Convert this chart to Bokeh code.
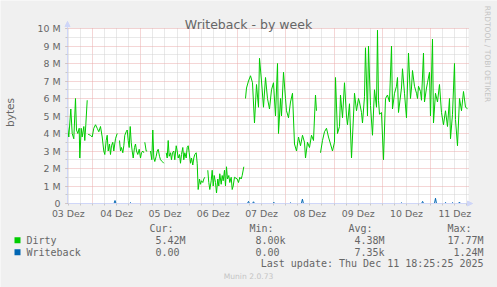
import math
import numpy as np
from bokeh.plotting import figure
from bokeh.models import (Range1d, FixedTicker, Label, Arrow, NormalHead,
                          BoxAnnotation, ColumnDataSource)
from bokeh.embed import file_html
from bokeh.resources import INLINE

NaN = float("nan")

# ---- data (time = hours since 03 Dez 00:00, values in M bytes) ----
dirty_t = [11.6, 12.25, 13.24, 13.93, 14.73, 15.57, 16.07, 16.72, 17.41, 17.71,
           18.41, 18.9, 19.7, 20.19, 20.69, 21.39, 21.63, 21.88, 23.03, 23.87,
           24.66, 25.51, 26.35, 27.15, 27.99, 28.84, 29.63, 30.13, 30.82, 31.32,
           31.82, 32.46, 32.96, 33.46, 34.1, 34.6, 35.44, 36.29, 36.83, 37.43,
           37.93, 38.42, 39.07, 39.57, 40.06, 40.76, 41.26, 41.75, 42.25, 42.75,
           43.24, 43.74, 44.24, 44.88, 45.38, 45.88, 46.52, 47.22, 47.86, 48.36,
           49.01, 49.5, 49.75, 50.0, 50.69, 51.19, 52.33, 52.83, 53.48, 53.97,
           54.47, 54.97, 55.66, 56.16, 56.66, 57.3, 57.8, 58.64, 59.44, 60.28,
           60.63, 61.13, 61.62, 62.12, 62.77, 63.26, 63.76, 64.4, 64.9, 65.6,
           66.09, 66.59, 67.24, 67.73, 68.23, 68.87, 69.37, 69.87, 70.56, 71.06,
           71.56, 72.05, 72.7, 73.2, 73.84, 74.34, 74.84, 75.53, 76.03, 76.52,
           77.17, 77.67, 78.16, 78.81, 79.31, 79.8, 80.65, 81.29, 81.79, 82.29,
           82.98, 83.48, 83.98, 84.47, 85.12, 85.62, 86.26, 86.76, 87.25, 87.95,
           88.45, 88.94, 89.59, 90.09, 90.58, 91.08, 91.72, 92.22, 92.92, 93.41,
           93.91, 94.56, 95.9, 96.54, 97.19, 97.88, 98.38, 99.18, 99.52,
           100.02, 100.52, 101.51, 102.51, 103.5, 104.49, 105.49, 106.48, 106.98, 107.97,
           108.96, 109.96, 110.95, 111.94, 112.94, 113.93, 114.92, 115.92, 116.41, 117.41,
           117.9, 118.9, 119.89, 120.39, 121.38, 122.38, 123.37, 124.36, 125.36, 126.35,
           127.34, 128.34, 129.33, 129.83, 130.82, 131.81, 132.81, 133.8, 134.79, 135.29,
           136.28, 137.28, 138.27, 139.27, 140.26, 141.25, 142.25, 143.24, 144.23, 144.73,
           145.72, 146.72, 147.21, 148.21, 149.2, 150.19, 150.69, 151.68, 152.68, 153.67,
           154.17, 155.16, 156.15, 156.65, 157.64, 158.14, 159.13, 159.63, 160.62, 161.12,
           162.11, 163.11, 164.1, 165.1, 165.59, 166.09, 166.59, 167.58, 168.57, 169.57,
           170.56, 171.55, 172.55, 173.04, 174.04, 175.03, 175.53, 176.02, 177.51, 178.01,
           179.0, 179.99, 180.99, 181.98, 182.48, 182.98, 183.97, 184.97, 185.46, 185.96,
           186.95, 187.45, 188.44, 188.94, 189.93, 190.43, 191.42, 191.92, 192.91, 193.41,
           194.4, 195.4, 196.39, 197.38, 198.38, 199.37, 200.37, 201.36, 201.86, 202.85,
           203.84, 204.34, 205.33, 206.33, 207.32, 208.31, 209.31, 210.3]

dirty_v = [4.4, 3.8, 5.4, 4.0, 3.7, 6.0, 4.2, 4.0, 4.3, 2.6,
           4.3, 3.8, 4.4, 3.6, 4.5, 5.9, NaN, 3.95, 3.9, 3.8,
           4.3, 4.5, 4.3, 4.1, 4.4, 3.8, 3.0, 2.8, 3.6, 3.9,
           3.0, 3.4, 2.8, 3.3, 3.5, 3.0, 3.7, 4.0, NaN, 3.6,
           3.0, 3.2, 2.9, 3.3, 3.9, 4.1, 4.2, 3.6, 3.2, 4.4,
           3.5, 3.0, 2.6, 3.2, 3.4, 3.0, 2.8, 3.1, 2.6, 2.9,
           3.0, 2.9, NaN, 3.5, 3.0, 3.0, NaN, 3.0, 2.5, 4.2,
           2.6, 2.4, 2.7, 3.0, 3.1, 2.7, 2.5, 2.4, 2.3, NaN,
           2.9, 2.6, 3.6, 2.7, 2.9, 2.5, 2.9, 3.0, 2.5, 3.3,
           3.0, 2.6, 2.8, 2.3, 2.8, 3.2, 2.5, 2.9, 2.6, 3.2,
           3.3, 2.9, 2.3, 2.6, 2.2, 2.6, 2.8, 2.9, 2.3, 0.8,
           1.4, 1.1, 1.3, 1.2, 1.4, 1.5, NaN, 1.9, 1.2, 0.8,
           1.3, 1.9, 1.0, 1.6, 1.2, 0.6, 1.4, 1.0, 1.7, 1.1,
           1.6, 1.3, 1.9, 1.0, 2.1, 1.4, 1.6, 1.2, 1.5, 0.8,
           1.0, 1.5, 1.4, 1.2, 1.5, 1.4, 1.6, 2.1, NaN,
           6.0, 6.6, 7.0, 7.3, 6.9, 4.6, 6.8, 5.5, 8.3, 7.0,
           5.5, 7.2, 6.0, 5.4, 6.5, 6.9, 5.0, 8.0, 4.0, 6.0,
           5.0, 7.5, 6.0, 5.3, 4.9, 5.8, 6.3, 3.4, 3.0, 3.8,
           3.3, 3.9, 3.5, 2.6, 3.5, 3.2, 3.9, 3.6, 6.2, 5.3,
           NaN, 2.9, 3.6, 4.1, 4.3, 3.8, 3.4, 3.0, 3.5, 7.2,
           4.0, 4.4, 6.2, 4.9, 6.9, 5.0, 4.5, 5.7, 2.6, 5.0,
           6.3, 5.3, 6.0, 5.8, 5.2, 4.6, 6.1, 8.9, 5.0, 9.0,
           5.6, 3.9, 6.5, 5.5, 9.9, 5.9, 5.1, 5.2, 2.5, 6.0,
           6.2, 5.8, 9.0, 5.4, 6.3, 6.7, 7.2, 5.2, 6.6, 7.7,
           6.3, 4.9, 8.6, 6.0, 6.6, 7.6, 6.7, 6.3, 6.0, 6.7,
           6.4, 5.9, 8.6, 5.8, 6.6, 6.9, 7.5, 5.0, 9.4, 4.6,
           6.3, 5.8, 6.8, 5.2, 4.5, 5.3, 4.4, 6.0, 3.7, 5.1,
           8.0, 4.8, 3.3, 6.0, 5.3, 6.4, 5.5, 5.42]

wb_t = [11.6, 34.7, 35.2, 35.7, 42.4, 42.9, 43.4, 101.0, 101.5, 102.0,
        103.5, 104.0, 104.5, 113.6, 114.1, 114.6, 121.9, 122.4, 122.9, 127.8,
        128.3, 128.8, 177.0, 177.5, 178.0, 187.5, 188.0, 188.5, 193.9, 194.4,
        194.9, 198.9, 199.4, 199.9, 202.4, 202.9, 203.4, 205.8, 206.3, 206.8, 210.3]
wb_v = [0, 0, 0.17, 0, 0, 0.05, 0, 0, 0.12, 0,
        0, 0.1, 0, 0, 0.07, 0, 0, 0.04, 0, 0,
        0.25, 0, 0, 0.04, 0, 0, 0.12, 0, 0, 0.3,
        0, 0, 0.06, 0, 0, 0.05, 0, 0, 0.08, 0, 0]

assert len(dirty_t) == len(dirty_v), (len(dirty_t), len(dirty_v))
assert len(wb_t) == len(wb_v)

day_labels = ["03 Dez", "04 Dez", "05 Dez", "06 Dez", "07 Dez",
              "08 Dez", "09 Dez", "10 Dez", "11 Dez"]
y_labels = ["0", "1 M", "2 M", "3 M", "4 M", "5 M", "6 M", "7 M", "8 M", "9 M", "10 M"]

legend_names = ["Dirty", "Writeback"]
legend_colors = ["#00CC00", "#0066B3"]
cur_vals = ["5.42M", "0.00"]
min_vals = ["8.00k", "0.00"]
avg_vals = ["4.38M", "7.35k"]
max_vals = ["17.77M", "1.24M"]

T0, T1 = 11.6, 210.8      # time span of the graph canvas
YMAX = 10                 # value span of the graph canvas

FONT = "#666666"
BACK = "#F0F0F0"
AXC = "#CFD6F8"
W, H = 497, 287

# graph canvas placement in the picture (pixels)
GL, GR, GT, GB = 67, 468, 28, 203
PX_H = (GR - GL) / (T1 - T0)    # pixels per hour
PX_M = (GB - GT) / YMAX         # pixels per M

# the frame spans the whole picture; axes sit at fixed locations
p = figure(width=W, height=H, output_backend="svg", toolbar_location=None,
           x_range=Range1d(T0 - GL / PX_H, T0 + (W - GL) / PX_H),
           y_range=Range1d(-(H - GB) / PX_M, GB / PX_M),
           min_border=0, title=None)
p.background_fill_color = BACK
p.border_fill_color = BACK
p.outline_line_color = None

# white graph canvas
p.add_layout(BoxAnnotation(left=T0, right=T1, bottom=0, top=YMAX,
                           fill_color="#FFFFFF", fill_alpha=1, line_color=None,
                           level="image"))

noon = [12 + 24 * i for i in range(len(day_labels))]
midnight = [24 * i for i in range(1, 9)]
six_h = [6 * i for i in range(2, 36) if (6 * i) % 24 != 0]

ytick = list(range(len(y_labels)))
yminor = [0.5 * i for i in range(21)]

p.xgrid.ticker = FixedTicker(ticks=midnight, minor_ticks=six_h)
p.ygrid.ticker = FixedTicker(ticks=ytick, minor_ticks=[v for v in yminor if v % 1 != 0])
for g in (p.xgrid[0], p.ygrid[0]):
    g.grid_line_color = "#EBADAD"
    g.grid_line_dash = "1 1"
    g.minor_grid_line_color = "#D2D2D2"
    g.minor_grid_line_dash = "1 1"
    g.level = "underlay"
p.xgrid[0].cross_bounds = (0, YMAX)
p.ygrid[0].cross_bounds = (T0, T1)
p.xgrid[0].bounds = (T0, T1)
p.ygrid[0].bounds = (0, YMAX)

xa = p.xaxis[0]
xa.fixed_location = 0
xa.ticker = FixedTicker(ticks=noon, minor_ticks=six_h + midnight)
xa.major_label_overrides = {t: l for t, l in zip(noon, day_labels)}
xa.major_tick_line_color = None
xa.major_tick_out = 2
xa.major_label_standoff = 2
xa.minor_tick_line_color = "#C8C8C8"
xa.minor_tick_out = 2
xa.minor_tick_in = 0
xa.bounds = (T0, T0 + 405 / PX_H)
ya = p.yaxis[0]
ya.fixed_location = T0
ya.ticker = FixedTicker(ticks=ytick, minor_ticks=yminor)
ya.major_label_overrides = {t: l for t, l in zip(ytick, y_labels)}
ya.major_tick_line_color = "#E39A9A"
ya.major_tick_out = 2
ya.major_tick_in = 0
ya.major_label_standoff = 5
ya.minor_tick_line_color = "#C8C8C8"
ya.minor_tick_out = 2
ya.minor_tick_in = 0
ya.bounds = (0, YMAX + 7 / PX_M)
ya.axis_label = "bytes"
ya.axis_label_text_font = "DejaVu Sans"
ya.axis_label_text_font_size = "10.5px"
ya.axis_label_text_font_style = "normal"
ya.axis_label_text_color = FONT
ya.axis_label_standoff = 19
for ax in (xa, ya):
    ax.axis_line_color = AXC
    ax.major_label_text_font = "DejaVu Sans"
    ax.major_label_text_font_size = "9.4px"
    ax.major_label_text_color = FONT

# data lines
src_d = ColumnDataSource(dict(t=np.array(dirty_t), v=np.array(dirty_v, dtype=float)))
src_w = ColumnDataSource(dict(t=np.array(wb_t), v=np.array(wb_v, dtype=float)))
p.line("t", "v", source=src_d, line_color=legend_colors[0], line_width=1)
p.line("t", "v", source=src_w, line_color=legend_colors[1], line_width=1)

# axis arrows
p.add_layout(Arrow(x_start=T0, y_start=YMAX, x_end=T0, y_end=YMAX + 7 / PX_M,
                   line_color=AXC, line_width=1,
                   end=NormalHead(size=5, fill_color=AXC, line_color=AXC)))
p.add_layout(Arrow(x_start=T1, y_start=0, x_end=T0 + 405 / PX_H, y_end=0,
                   line_color=AXC, line_width=1,
                   end=NormalHead(size=5, fill_color=AXC, line_color=AXC)))


def lab(text, cx, cy, size, font="DejaVu Sans", color=FONT, align="left",
        baseline="middle", angle=0.0):
    # screen units measured from the frame's bottom-left (= picture bottom-left)
    p.add_layout(Label(x=cx, y=H - cy, x_units="screen", y_units="screen",
                       text=text, text_font=font, text_font_size=size,
                       text_color=color, text_align=align,
                       text_baseline=baseline, angle=angle))


lab("Writeback - by week", 248, 24, "12.5px", align="center", baseline="alphabetic")
lab("RRDTOOL / TOBI OETIKER", 487, 53.5, "7.5px", color="#C4C4C4",
    align="center", angle=-math.pi / 2)

MONO = "DejaVu Sans Mono"
for txt, cx in zip(["Cur:", "Min:", "Avg:", "Max:"], [149, 249, 348, 447]):
    lab(txt, cx, 227.7, "10px", font=MONO)
row_y = [239.7, 251.7]
for i, name in enumerate(legend_names):
    y = row_y[i]
    p.add_layout(BoxAnnotation(left=14, right=20, top=H - (y - 3), bottom=H - (y + 3),
                               left_units="screen", right_units="screen",
                               top_units="screen", bottom_units="screen",
                               fill_color=legend_colors[i], fill_alpha=1.0,
                               line_color=None))
    lab(name, 26, y, "10px", font=MONO)
    lab(cur_vals[i], 155, y, "10px", font=MONO)
    lab(min_vals[i], 255, y, "10px", font=MONO)
    lab(avg_vals[i], 354, y, "10px", font=MONO)
    lab(max_vals[i], 483, y, "10px", font=MONO, align="right")
lab("Last update: Thu Dec 11 18:25:25 2025", 483, 263.3, "10px", font=MONO, align="right")
lab("Munin 2.0.73", 248, 276, "7.6px", color="#C4C4C4", align="center")

open("out.html", "w").write(file_html(p, INLINE))
